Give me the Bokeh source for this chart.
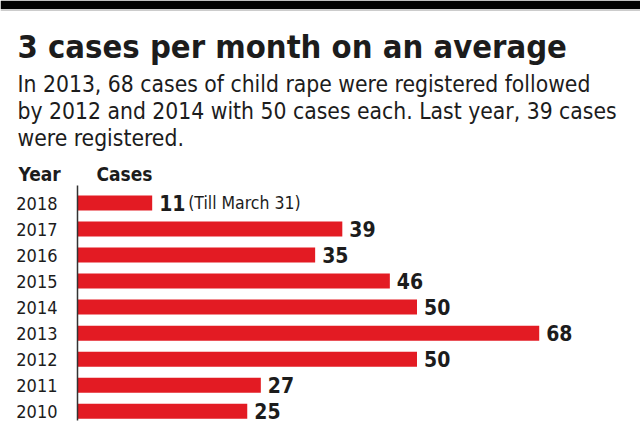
from bokeh.plotting import figure
from bokeh.models import Range1d, Label, BoxAnnotation, Span, ColumnDataSource
from bokeh.core.properties import value
from bokeh.embed import file_html
from bokeh.resources import INLINE

# ---- data ----
years = [2018, 2017, 2016, 2015, 2014, 2013, 2012, 2011, 2010]
cases = [11, 39, 35, 46, 50, 68, 50, 27, 25]
year_labels = [str(y) for y in years]
case_labels = [str(c) for c in cases]
note_text = "(Till March 31)"
title_text = "3 cases per month on an average"
subtitle_lines = [
    "In 2013, 68 cases of child rape were registered followed",
    "by 2012 and 2014 with 50 cases each. Last year, 39 cases",
    "were registered.",
]
header_year = "Year"
header_cases = "Cases"

W, H = 640, 443
FONT = "DejaVu Sans Condensed"
RED = "#e31b23"
INK = "#1c1c1c"

# pixel geometry -> data ranges
x0_px, px_per_unit = 77.0, 6.79
y_top_px, px_per_year = 202.5, 26.03

p = figure(width=W, height=H, output_backend="svg", toolbar_location=None,
           x_range=Range1d(-x0_px / px_per_unit, (W - x0_px) / px_per_unit),
           y_range=Range1d(years[0] - (H - y_top_px) / px_per_year,
                           years[0] + y_top_px / px_per_year),
           min_border=0, outline_line_color=None)
p.xaxis.visible = False
p.yaxis.visible = False
p.grid.visible = False
p.background_fill_color = "white"
p.border_fill_color = "white"

src = ColumnDataSource(dict(
    year=years, cases=cases, ylab=year_labels, clab=case_labels,
    lab_x=[c + 7 / px_per_unit for c in cases],
    ylab_x=[-20 / px_per_unit] * len(years),
))

p.hbar(y="year", right="cases", left=0, height=15 / px_per_year, source=src,
       fill_color=RED, line_color=None)

p.segment(x0=[0], x1=[0],
          y0=[years[0] + (y_top_px - 185) / px_per_year],
          y1=[years[-1] - (420 - 410.7) / px_per_year],
          line_color="#333333", line_width=1.5)

p.text(x="ylab_x", y="year", text="ylab", source=src,
       text_font=value(FONT), text_font_size="18px", text_color=INK,
       text_align="right", text_baseline="middle")

p.text(x="lab_x", y="year", text="clab", source=src,
       text_font=value(FONT), text_font_size="21px", text_font_style="bold",
       text_color=INK, text_align="left", text_baseline="middle")

p.text(x=[cases[0] + 36 / px_per_unit], y=[years[0]], text=[note_text],
       text_font=value(FONT), text_font_size="17.5px", text_color=INK,
       text_align="left", text_baseline="middle")

p.add_layout(BoxAnnotation(bottom=H - 8.5, bottom_units="screen",
                           fill_color="black", fill_alpha=1.0, line_color=None))
p.add_layout(Span(location=H - 9.5, location_units="screen", dimension="width",
                  line_color="#9a9a9a", line_width=1))

p.add_layout(Label(x=17, y=H - 46, x_units="screen", y_units="screen",
                   text=title_text, text_font=FONT, text_font_size="32.5px",
                   text_font_style="bold", text_color=INK,
                   text_baseline="alphabetic"))
for i, line in enumerate(subtitle_lines):
    p.add_layout(Label(x=17, y=H - (83 + 27 * i), x_units="screen", y_units="screen",
                       text=line, text_font=FONT, text_font_size="22.7px",
                       text_color=INK, text_baseline="alphabetic"))

p.add_layout(Label(x=18, y=H - 173, x_units="screen", y_units="screen",
                   text=header_year, text_font=FONT, text_font_size="19px",
                   text_font_style="bold", text_color=INK, text_baseline="alphabetic"))
p.add_layout(Label(x=96, y=H - 173, x_units="screen", y_units="screen",
                   text=header_cases, text_font=FONT, text_font_size="19px",
                   text_font_style="bold", text_color=INK, text_baseline="alphabetic"))

open("out.html", "w").write(file_html(p, INLINE))
